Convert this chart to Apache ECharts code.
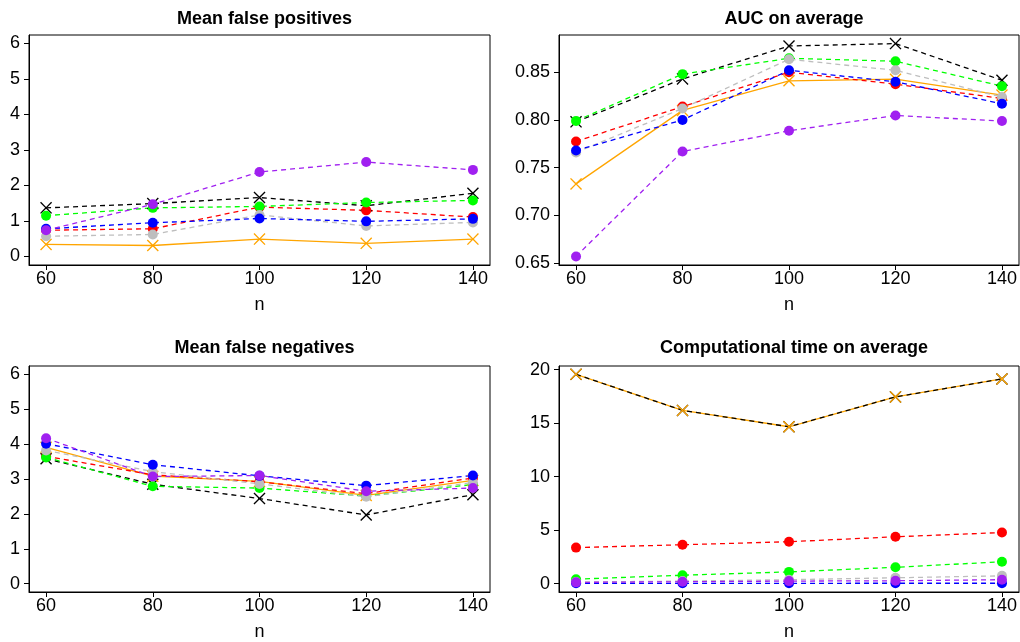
<!DOCTYPE html>
<html>
<head>
<meta charset="utf-8">
<title>Simulation summary</title>
<script src="https://cdn.jsdelivr.net/npm/echarts@6/dist/echarts.min.js"></script>
<style>
  html, body { margin: 0; padding: 0; background: #fff; }
  #chart { width: 1020px; height: 642px; }
</style>
</head>
<body>
<div id="chart"></div>
<script>
// Sample sizes on the horizontal axis
const nValues = [60, 80, 100, 120, 140];
const nTicks = [60, 80, 100, 120, 140];

// Mean false positives
const fpBlack  = [1.37, 1.49, 1.66, 1.43, 1.78];
const fpOrange = [0.34, 0.31, 0.49, 0.37, 0.49];
const fpRed    = [0.74, 0.78, 1.39, 1.30, 1.11];
const fpGreen  = [1.15, 1.37, 1.41, 1.52, 1.58];
const fpGray   = [0.57, 0.62, 1.17, 0.86, 0.96];
const fpBlue   = [0.78, 0.95, 1.07, 0.99, 1.06];
const fpPurple = [0.74, 1.47, 2.38, 2.66, 2.44];

// AUC on average
const aucBlack  = [0.798, 0.843, 0.8775, 0.880, 0.8416];
const aucOrange = [0.733, 0.810, 0.841, 0.8427, 0.826];
const aucRed    = [0.7775, 0.814, 0.850, 0.8375, 0.8225];
const aucGreen  = [0.799, 0.848, 0.8646, 0.8615, 0.8354];
const aucGray   = [0.766, 0.812, 0.8636, 0.852, 0.824];
const aucBlue   = [0.768, 0.800, 0.852, 0.840, 0.817];
const aucPurple = [0.657, 0.767, 0.7887, 0.8047, 0.7988];

// Mean false negatives
const fnBlack  = [3.58, 2.85, 2.44, 1.97, 2.55];
const fnOrange = [3.91, 3.08, 2.93, 2.53, 2.96];
const fnRed    = [3.65, 3.12, 2.92, 2.58, 3.03];
const fnGreen  = [3.62, 2.79, 2.74, 2.51, 2.84];
const fnGray   = [3.82, 3.21, 2.86, 2.49, 2.90];
const fnBlue   = [4.01, 3.41, 3.09, 2.81, 3.10];
const fnPurple = [4.17, 3.07, 3.10, 2.65, 2.74];

// Computational time on average
const tmBlack  = [19.57, 16.20, 14.67, 17.46, 19.14];
const tmOrange = [19.57, 16.20, 14.67, 17.46, 19.14];
const tmRed    = [3.37, 3.64, 3.92, 4.38, 4.78];
const tmGreen  = [0.42, 0.79, 1.10, 1.53, 2.05];
const tmGray   = [0.15, 0.24, 0.37, 0.55, 0.73];
const tmBlue   = [0.03, 0.03, 0.03, 0.04, 0.04];
const tmPurple = [0.12, 0.18, 0.24, 0.27, 0.37];

// Panel titles and y tick labels
const titles = ['Mean false positives', 'AUC on average', 'Mean false negatives', 'Computational time on average'];
const yTicksCount = [0, 1, 2, 3, 4, 5, 6];
const yTicksAuc = [0.65, 0.70, 0.75, 0.80, 0.85];
const yTicksTime = [0, 5, 10, 15, 20];

const panelData = [
  { black: fpBlack, orange: fpOrange, red: fpRed, green: fpGreen, gray: fpGray, blue: fpBlue, purple: fpPurple },
  { black: aucBlack, orange: aucOrange, red: aucRed, green: aucGreen, gray: aucGray, blue: aucBlue, purple: aucPurple },
  { black: fnBlack, orange: fnOrange, red: fnRed, green: fnGreen, gray: fnGray, blue: fnBlue, purple: fnPurple },
  { black: tmBlack, orange: tmOrange, red: tmRed, green: tmGreen, gray: tmGray, blue: tmBlue, purple: tmPurple }
];

const FONT = 'Liberation Sans, Arial, Helvetica, sans-serif';
const crossPath = 'path://M0,0.8L0.8,0L5,4.2L9.2,0L10,0.8L5.8,5L10,9.2L9.2,10L5,5.8L0.8,10L0,9.2L4.2,5Z';

const styles = {
  black:  { color: '#000000', dashed: true,  cross: true },
  orange: { color: '#FFA500', dashed: false, cross: true },
  red:    { color: '#FF0000', dashed: true,  cross: false },
  green:  { color: '#00FF00', dashed: true,  cross: false },
  gray:   { color: '#BEBEBE', dashed: true,  cross: false },
  blue:   { color: '#0000FF', dashed: true,  cross: false },
  purple: { color: '#A020F0', dashed: true,  cross: false }
};
const lineOrder = ['orange', 'black', 'red', 'green', 'gray', 'blue', 'purple'];
const markOrder = ['black', 'orange', 'red', 'green', 'gray', 'blue', 'purple'];

const grids = [
  { left: 29,  top: 35,  width: 461, height: 230 },
  { left: 559, top: 35,  width: 460, height: 230 },
  { left: 29,  top: 366, width: 461, height: 230 },
  { left: 559, top: 366, width: 460, height: 230 }
];
const yRanges = [
  { min: -0.24, max: 6.24, ticks: yTicksCount, fmt: v => String(v) },
  { min: 0.648, max: 0.889, ticks: yTicksAuc, fmt: v => v.toFixed(2) },
  { min: -0.24, max: 6.24, ticks: yTicksCount, fmt: v => String(v) },
  { min: -0.78, max: 20.35, ticks: yTicksTime, fmt: v => String(v) }
];

const pairs = arr => nValues.map((n, i) => [n, arr[i]]);

const option = {
  animation: false,
  backgroundColor: '#ffffff',
  title: titles.map((t, i) => ({
    text: t,
    left: grids[i].left + grids[i].width / 2,
    top: i < 2 ? 5 : 334,
    textAlign: 'center',
    textStyle: { fontFamily: FONT, fontSize: 18, fontWeight: 'bold', color: '#000' }
  })),
  grid: grids.map(g => Object.assign({ show: true, borderColor: '#000', borderWidth: 1, backgroundColor: 'transparent', containLabel: false }, g)),
  xAxis: grids.map((g, i) => ({
    type: 'value', gridIndex: i, min: 56.8, max: 143.2,
    name: 'n', nameLocation: 'middle', nameGap: 31,
    nameTextStyle: { fontFamily: FONT, fontSize: 18, color: '#000' },
    axisLine: { show: true, onZero: false, lineStyle: { color: '#000', width: 1 } },
    axisTick: { show: true, length: 5, customValues: nTicks, lineStyle: { color: '#000', width: 1 } },
    axisLabel: { customValues: nTicks, margin: 5, fontFamily: FONT, fontSize: 18, color: '#000' },
    splitLine: { show: false }
  })),
  yAxis: yRanges.map((r, i) => ({
    type: 'value', gridIndex: i, min: r.min, max: r.max,
    axisLine: { show: true, onZero: false, lineStyle: { color: '#000', width: 1 } },
    axisTick: { show: true, length: 5, customValues: r.ticks, lineStyle: { color: '#000', width: 1 } },
    axisLabel: { customValues: r.ticks, margin: 9, fontFamily: FONT, fontSize: 18, color: '#000', formatter: r.fmt },
    splitLine: { show: false }
  })),
  series: []
};

panelData.forEach((pd, i) => {
  lineOrder.forEach((key, k) => {
    const s = styles[key];
    option.series.push({
      type: 'line', xAxisIndex: i, yAxisIndex: i, z: 2 + k * 0.01,
      data: pairs(pd[key]), showSymbol: false, silent: true,
      lineStyle: { color: s.color, width: 1.3, type: s.dashed ? [5, 4] : 'solid' }
    });
  });
  markOrder.forEach((key, k) => {
    const s = styles[key];
    option.series.push({
      type: 'scatter', xAxisIndex: i, yAxisIndex: i, z: 3 + k * 0.01,
      data: pairs(pd[key]), silent: true,
      symbol: s.cross ? crossPath : 'circle',
      symbolSize: s.cross ? 12 : 10,
      itemStyle: { color: s.color, opacity: 1 }
    });
  });
});

const chart = echarts.init(document.getElementById('chart'), null, { renderer: 'canvas' });
chart.setOption(option);
</script>
</body>
</html>
